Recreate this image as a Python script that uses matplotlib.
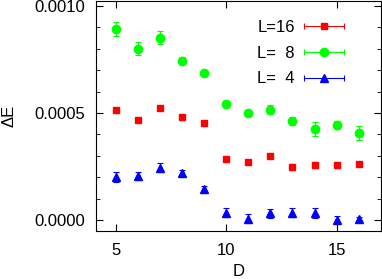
import matplotlib
matplotlib.use("Agg")
import matplotlib.pyplot as plt
from matplotlib.lines import Line2D
from matplotlib.legend_handler import HandlerBase
from matplotlib.ticker import FormatStrFormatter, MultipleLocator

plt.rcParams['font.family'] = ['Liberation Sans', 'DejaVu Sans']

D = [5, 6, 7, 8, 9, 10, 11, 12, 13, 14, 15, 16]

# L=16
e16 = [0.000513, 0.000467, 0.000522, 0.000480, 0.000452, 0.000285,
       0.000270, 0.000298, 0.000248, 0.000257, 0.000257, 0.000263]
err16 = [0.000010, 0.000010, 0.000008, 0.000012, 0.000012, 0.000006,
         0.000008, 0.000010, 0.000014, 0.000016, 0.000014, 0.000008]

# L=8
e8 = [0.000893, 0.000800, 0.000852, 0.000745, 0.000685, 0.000544,
      0.000502, 0.000516, 0.000463, 0.000424, 0.000445, 0.000408]
err8 = [0.000033, 0.000030, 0.000030, 0.000018, 0.000014, 0.000010,
        0.000010, 0.000020, 0.000020, 0.000033, 0.000020, 0.000033]

# L=4
e4 = [0.000202, 0.000206, 0.000245, 0.000221, 0.000145, 0.000034,
      0.000006, 0.000031, 0.000034, 0.000033, 0.000002, 0.000003]
err4 = [0.000023, 0.000020, 0.000020, 0.000013, 0.000012, 0.000022,
        0.000020, 0.000022, 0.000022, 0.000022, 0.000015, 0.000012]


# gnuplot style key: horizontal bar with caps, marker in the middle
class HandlerKey(HandlerBase):
    def create_artists(self, legend, orig, xdescent, ydescent, width, height,
                       fontsize, trans):
        c = orig.get_color()
        y = height / 2 - ydescent
        x0, x1 = -xdescent, width - xdescent
        bar = Line2D([x0, x1], [y, y], color=c, lw=0.8, transform=trans)
        caps = Line2D([x0, x1], [y, y], ls='none', marker='|', ms=5,
                      mew=0.8, color=c, transform=trans)
        mk = Line2D([(x0 + x1) / 2], [y], ls='none', marker=orig.get_marker(),
                    ms=orig.get_markersize(), color=c, transform=trans)
        return [bar, caps, mk]


fig = plt.figure(figsize=(3.82, 2.79), dpi=100)
ax = fig.add_axes([0.251, 0.173, 0.746, 0.823])

ax.errorbar(D, e16, yerr=err16, fmt='s', color='#ff0000', ms=5, capsize=2,
            elinewidth=0.8, capthick=0.8)
ax.errorbar(D, e8, yerr=err8, fmt='o', color='#00ff00', ms=6, capsize=2,
            elinewidth=0.8, capthick=0.8)
ax.errorbar(D, e4, yerr=err4, fmt='^', color='#0000ff', ms=5.5, capsize=2,
            elinewidth=0.8, capthick=0.8)

keys = [Line2D([], [], color='#ff0000', marker='s', ms=5),
        Line2D([], [], color='#00ff00', marker='o', ms=6),
        Line2D([], [], color='#0000ff', marker='^', ms=5.5)]
labels = ['L=16', 'L=  8', 'L=  4']

ax.set_xlim(4.1, 17)
ax.set_ylim(-0.00005, 0.001023)
ax.xaxis.set_major_locator(MultipleLocator(5))
ax.yaxis.set_major_locator(MultipleLocator(0.0005))
ax.yaxis.set_minor_locator(MultipleLocator(0.0001))
ax.yaxis.set_major_formatter(FormatStrFormatter('%.4f'))
ax.tick_params(which='both', direction='in', top=True, right=True, labelsize=12)
ax.tick_params(which='major', length=5)
ax.tick_params(axis='y', which='major', pad=8)
ax.tick_params(axis='x', which='major', pad=9)
ax.tick_params(which='minor', length=3)

ax.set_xlabel('D', fontsize=12)
ax.set_ylabel('ΔE', fontsize=12)
ax.xaxis.set_label_coords(0.5, -0.143)
ax.yaxis.set_label_coords(-0.28, 0.5)

ax.legend(keys, labels, handler_map={Line2D: HandlerKey()},
          loc='upper right', bbox_to_anchor=(0.9, 0.955), frameon=False,
          markerfirst=False, fontsize=12, handlelength=2.4,
          handletextpad=0.55, labelspacing=0.65, borderpad=0)

fig.savefig('out.png', dpi=100)
